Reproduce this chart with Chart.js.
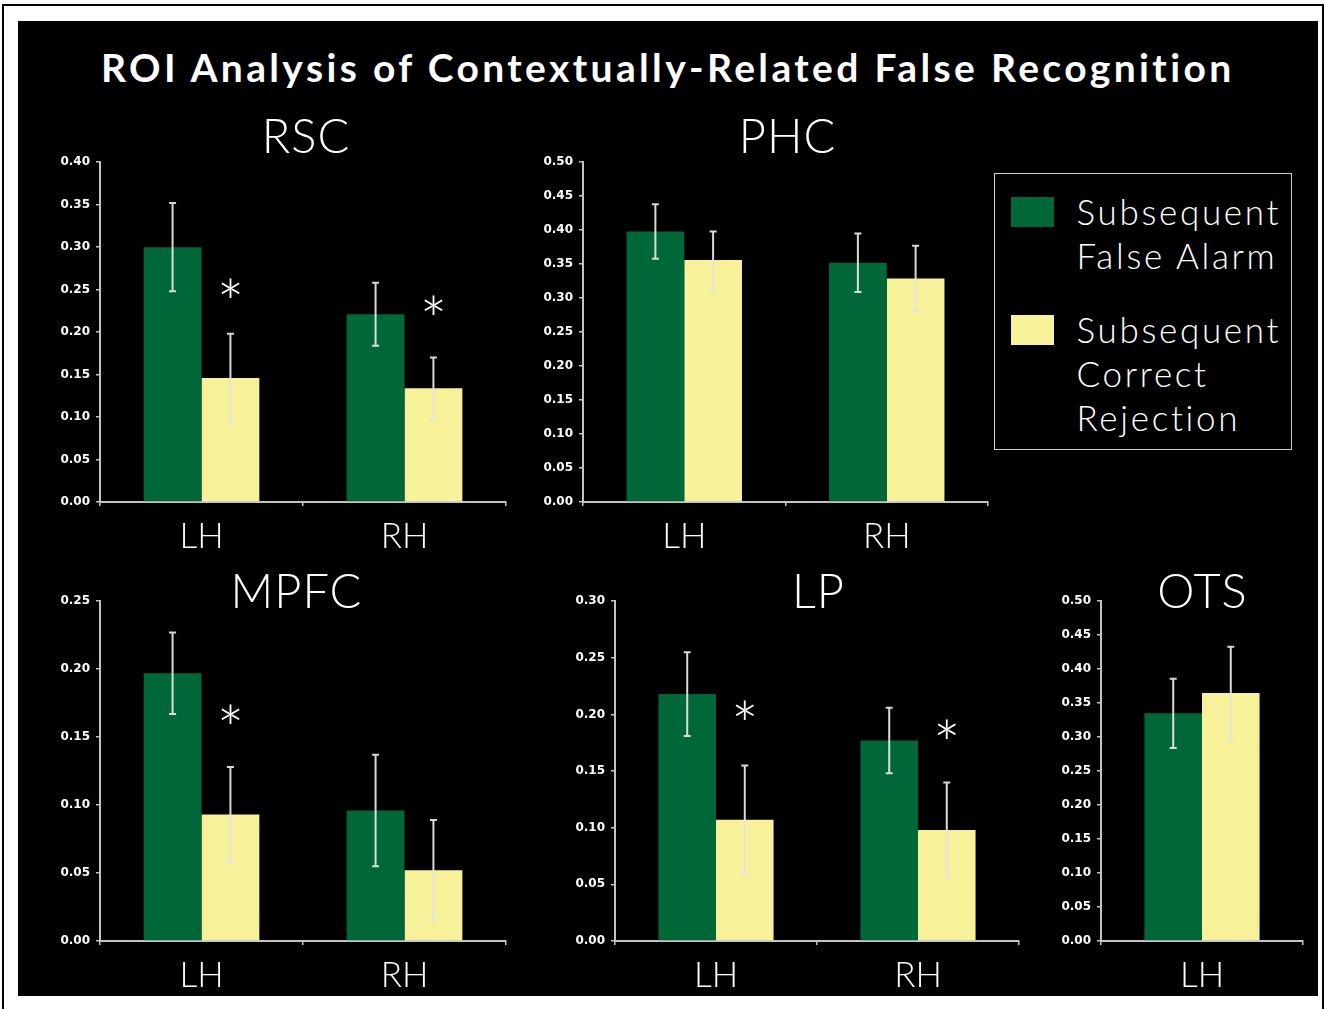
<!DOCTYPE html>
<html><head><meta charset="utf-8">
<script src="https://cdn.jsdelivr.net/npm/chart.js@4.4.1/dist/chart.umd.min.js"></script>
<style>
html,body{margin:0;padding:0;background:#fff;width:1325px;height:1009px;overflow:hidden;position:relative;}
#frame{position:absolute;left:2px;top:4px;width:1318px;height:1030px;border:2px solid #000;}
#panel{position:absolute;left:18px;top:21px;width:1300px;height:975px;background:#000;}
canvas{position:absolute;}
.txt{position:absolute;color:#fff;white-space:nowrap;line-height:1;margin:0;padding:0;}
#legend{position:absolute;left:994px;top:173px;width:296px;height:275px;border:1.5px solid #d0d0d0;}
.sw{position:absolute;}
</style></head><body>
<div id="frame"></div>
<div id="panel"></div>
<div id="legend"></div>
<script>
// ---------------- data ----------------
const mainTitle = 'ROI Analysis of Contextually-Related False Recognition';
const seriesNames = ['Subsequent False Alarm', 'Subsequent Correct Rejection'];
const legendLines = [['Subsequent', 'False Alarm'], ['Subsequent', 'Correct', 'Rejection']];
const seriesColors = ['#006838', '#f7f29a'];
const hemis2 = ['LH', 'RH'];
const hemis1 = ['LH'];

const rscTitle = 'RSC';
const rscFA = [0.300, 0.221];
const rscCR = [0.146, 0.134];
const rscFAErr = [0.052, 0.037];
const rscCRErr = [0.052, 0.036];
const rscSig = [0.252, 0.232];
const rscMax = 0.40;

const phcTitle = 'PHC';
const phcFA = [0.398, 0.352];
const phcCR = [0.356, 0.329];
const phcFAErr = [0.040, 0.043];
const phcCRErr = [0.042, 0.048];
const phcSig = [null, null];
const phcMax = 0.50;

const mpfcTitle = 'MPFC';
const mpfcFA = [0.197, 0.096];
const mpfcCR = [0.093, 0.052];
const mpfcFAErr = [0.030, 0.041];
const mpfcCRErr = [0.035, 0.037];
const mpfcSig = [0.167, null];
const mpfcMax = 0.25;

const lpTitle = 'LP';
const lpFA = [0.218, 0.177];
const lpCR = [0.107, 0.098];
const lpFAErr = [0.037, 0.029];
const lpCRErr = [0.048, 0.042];
const lpSig = [0.204, 0.187];
const lpMax = 0.30;

const otsTitle = 'OTS';
const otsFA = [0.335];
const otsCR = [0.365];
const otsFAErr = [0.051];
const otsCRErr = [0.068];
const otsSig = [null];
const otsMax = 0.50;

const yStep = 0.05;

// ---------------- layout ----------------
const Y_W = 60, PAD_T = 12, PAD_R = 10, X_H = 62;
const panels = [
  {title: rscTitle, labels: hemis2, fa: rscFA, cr: rscCR, faErr: rscFAErr, crErr: rscCRErr, sig: rscSig, yMax: rscMax, box: [100, 506, 161, 502], tcx: 305.5, tby: 153.5},
  {title: phcTitle, labels: hemis2, fa: phcFA, cr: phcCR, faErr: phcFAErr, crErr: phcCRErr, sig: phcSig, yMax: phcMax, box: [583, 988, 161, 502], tcx: 787, tby: 153.5},
  {title: mpfcTitle, labels: hemis2, fa: mpfcFA, cr: mpfcCR, faErr: mpfcFAErr, crErr: mpfcCRErr, sig: mpfcSig, yMax: mpfcMax, box: [100, 506, 599.5, 940.5], tcx: 296, tby: 608.5},
  {title: lpTitle, labels: hemis2, fa: lpFA, cr: lpCR, faErr: lpFAErr, crErr: lpCRErr, sig: lpSig, yMax: lpMax, box: [615, 1019, 599.5, 940.5], tcx: 818, tby: 608.5},
  {title: otsTitle, labels: hemis1, fa: otsFA, cr: otsCR, faErr: otsFAErr, crErr: otsCRErr, sig: otsSig, yMax: otsMax, box: [1101, 1303, 599.5, 940.5], tcx: 1202, tby: 608.5}
];

const LIGHT = 'Lato, "Open Sans", sans-serif';
const mctx = document.createElement('canvas').getContext('2d');

function placeText(parent, text, x, baseline, size, weight, family, opts) {
  opts = opts || {};
  const font = weight + ' ' + size + 'px ' + family;
  mctx.font = font;
  const m = mctx.measureText(text);
  const A = m.fontBoundingBoxAscent, D = m.fontBoundingBoxDescent;
  let ls = opts.ls || 0;
  if (opts.width) ls = (opts.width - m.width) / (text.length - 1);
  const w = m.width + ls * (text.length - 1);
  const d = document.createElement('div');
  d.className = 'txt';
  d.textContent = text;
  d.style.font = font;
  d.style.lineHeight = size + 'px';
  d.style.letterSpacing = ls + 'px';
  const top = baseline - ((size - A - D) / 2 + A);
  d.style.top = top + 'px';
  d.style.left = (opts.align === 'left' ? x : x - w / 2) + 'px';
  parent.appendChild(d);
  return ls;
}

// main title
placeText(document.body, mainTitle, 667.5, 82, 39, 'bold', 'Lato, sans-serif', {width: 1133});

// legend
const legend = document.getElementById('legend');
const lgLeft = 994, lgTop = 173;
const swatchTops = [197.5, 315.5];
const blockBaselines = [226, 344];
let legendLs = null;
legendLines.forEach((lines, i) => {
  const sw = document.createElement('div');
  sw.className = 'sw';
  sw.style.left = (1011 - lgLeft - 1.5) + 'px';
  sw.style.top = (swatchTops[i] - lgTop - 1.5) + 'px';
  sw.style.width = '43px';
  sw.style.height = '30px';
  sw.style.background = seriesColors[i];
  sw.title = seriesNames[i];
  legend.appendChild(sw);
  lines.forEach((t, k) => {
    const opts = {align: 'left'};
    if (legendLs === null) opts.width = 202; else opts.ls = legendLs;
    const ls = placeText(legend, t, 1077 - lgLeft - 1.5, blockBaselines[i] + k * 44 - lgTop - 1.5, 35, '300', LIGHT, opts);
    if (legendLs === null) legendLs = ls;
  });
});

// error bars + significance markers
const errorBarPlugin = {
  id: 'errorBars',
  afterDatasetsDraw(chart, args, opts) {
    const ctx = chart.ctx;
    const y = chart.scales.y;
    ctx.save();
    chart.data.datasets.forEach((ds, di) => {
      const meta = chart.getDatasetMeta(di);
      const errs = opts.errors[di];
      meta.data.forEach((bar, j) => {
        const v = ds.data[j], e = errs[j];
        const yTop = y.getPixelForValue(v + e);
        const yBot = y.getPixelForValue(v - e);
        const x = bar.x;
        ctx.strokeStyle = 'rgba(228,228,228,0.95)';
        ctx.lineWidth = 2;
        ctx.beginPath();
        ctx.moveTo(x, yTop); ctx.lineTo(x, yBot);
        ctx.moveTo(x - 3.5, yTop); ctx.lineTo(x + 3.5, yTop);
        ctx.moveTo(x - 3.5, yBot); ctx.lineTo(x + 3.5, yBot);
        ctx.stroke();
      });
    });
    // significance asterisks above the correct-rejection bars
    const crMeta = chart.getDatasetMeta(1);
    ctx.fillStyle = '#ffffff';
    ctx.font = '300 66px ' + LIGHT;
    ctx.textAlign = 'center';
    ctx.textBaseline = 'alphabetic';
    const m = ctx.measureText('*');
    (opts.sig || []).forEach((s, j) => {
      if (s === null || s === undefined) return;
      const x = crMeta.data[j].x;
      const yc = y.getPixelForValue(s);
      ctx.fillText('*', x, yc + (m.actualBoundingBoxAscent - m.actualBoundingBoxDescent) / 2);
    });
    ctx.restore();
  }
};

const axisColor = '#c4c4c4';

panels.forEach(p => {
  const [l, r, t, b] = p.box;
  const cv = document.createElement('canvas');
  const W = Math.round(r - l + Y_W + PAD_R);
  const H = Math.round(b - t + PAD_T + X_H);
  cv.width = W; cv.height = H;
  cv.style.left = (l - Y_W) + 'px';
  cv.style.top = (t - PAD_T) + 'px';
  cv.style.width = W + 'px'; cv.style.height = H + 'px';
  document.body.appendChild(cv);

  new Chart(cv, {
    type: 'bar',
    data: {
      labels: p.labels,
      datasets: [
        {label: seriesNames[0], data: p.fa, backgroundColor: seriesColors[0], borderWidth: 0},
        {label: seriesNames[1], data: p.cr, backgroundColor: seriesColors[1], borderWidth: 0}
      ]
    },
    options: {
      responsive: false,
      animation: false,
      devicePixelRatio: 1,
      layout: {padding: {top: PAD_T, right: PAD_R, left: 0, bottom: 0}},
      datasets: {bar: {categoryPercentage: 0.57, barPercentage: 1.0}},
      plugins: {
        legend: {display: false},
        title: {display: false},
        tooltip: {enabled: false},
        errorBars: {errors: [p.faErr, p.crErr], sig: p.sig}
      },
      scales: {
        x: {
          z: 1,
          afterFit: s => { s.height = X_H; },
          grid: {display: true, offset: true, drawOnChartArea: false, drawTicks: true, tickLength: 4, color: axisColor, lineWidth: 1.5},
          border: {display: true, color: axisColor, width: 2},
          ticks: {color: '#ffffff', font: {family: LIGHT, size: 35, weight: '300'}, padding: 10, maxRotation: 0}
        },
        y: {
          min: 0, max: p.yMax,
          afterFit: s => { s.width = Y_W; },
          grid: {display: true, drawOnChartArea: false, drawTicks: true, tickLength: 4, color: axisColor, lineWidth: 1.5},
          border: {display: true, color: axisColor, width: 2},
          ticks: {stepSize: yStep, color: '#ffffff', font: {family: '"DejaVu Sans", sans-serif', size: 12, weight: 'bold'}, padding: 6,
                  callback: v => Number(v).toFixed(2)}
        }
      }
    },
    plugins: [errorBarPlugin]
  });

  placeText(document.body, p.title, p.tcx, p.tby, 47, '300', LIGHT, {ls: 1});
});
</script>
</body></html>
